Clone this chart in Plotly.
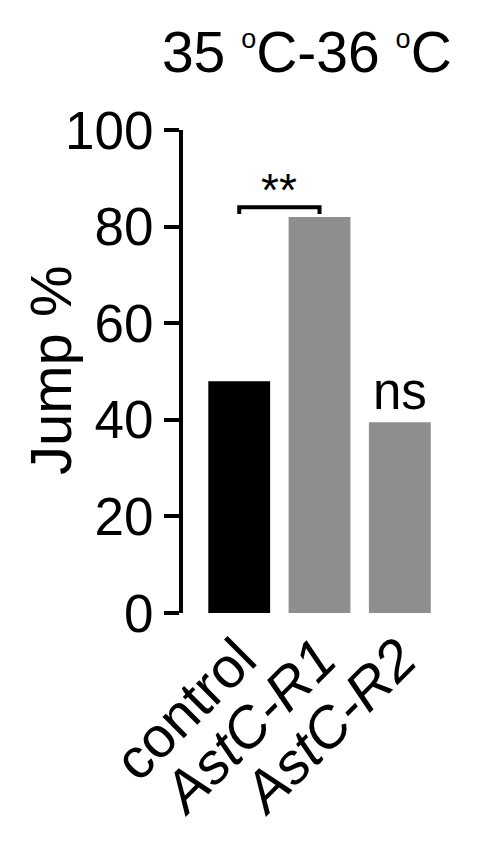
import plotly.graph_objects as go

groups = ["control", "AstC-R1", "AstC-R2"]
group_labels = ["control", "<i>AstC-R1</i>", "<i>AstC-R2</i>"]
jump_pct = [48, 82, 39.5]
bar_colors = ["#000000", "#8e8e8e", "#8e8e8e"]

bracket_x = ["control", "control", "AstC-R1", "AstC-R1"]
bracket_y = [82.6, 84, 84, 82.6]

y_ticks = [0, 20, 40, 60, 80, 100]

FONT = "Liberation Sans, Arial, Helvetica, sans-serif"
deg = '<sup><span style="font-size:27px">o</span></sup>'

fig = go.Figure()

fig.add_trace(go.Bar(
    x=groups,
    y=jump_pct,
    marker=dict(color=bar_colors, line=dict(width=0)),
    width=0.77,
    showlegend=False,
))

# significance bracket control vs AstC-R1
fig.add_trace(go.Scatter(
    x=bracket_x,
    y=bracket_y,
    mode="lines",
    line=dict(color="black", width=4),
    showlegend=False,
    hoverinfo="skip",
))

fig.add_annotation(x=0.5, y=84, xref="x", yref="y", text="**",
                   showarrow=False, yanchor="bottom", yshift=-11,
                   font=dict(size=46, color="black", family=FONT))
fig.add_annotation(x=2, y=39.5, xref="x", yref="y", text="ns",
                   showarrow=False, yanchor="bottom", yshift=0,
                   font=dict(size=51, color="black", family=FONT))

# y title as an annotation so its spot can be set
fig.add_annotation(x=-0.5175, y=0.503, xref="paper", yref="paper",
                   text="Jump %", textangle=-90, showarrow=False,
                   xanchor="center", yanchor="middle",
                   font=dict(size=58, color="black", family=FONT))

fig.update_layout(
    width=485,
    height=844,
    margin=dict(l=175, r=53, t=122, b=239),
    paper_bgcolor="white",
    plot_bgcolor="white",
    font=dict(family=FONT, color="black", size=52),
    title=dict(text="35 " + deg + "C-36 " + deg + "C",
               x=0.482, xref="paper", xanchor="center",
               y=1 - 44 / 844, yref="container", yanchor="middle",
               font=dict(size=57, family=FONT, color="black")),
)

fig.update_xaxes(
    type="category",
    range=[-0.7, 2.5],
    tickmode="array",
    tickvals=groups,
    ticktext=group_labels,
    tickangle=-45,
    ticks="",
    showline=False,
    showgrid=False,
    zeroline=False,
    tickfont=dict(size=57, family=FONT, color="black"),
)

fig.update_yaxes(
    range=[0, 100],
    tickvals=y_ticks,
    ticks="outside",
    ticklen=15,
    tickwidth=4,
    tickcolor="black",
    showline=True,
    linewidth=4,
    linecolor="black",
    showgrid=False,
    zeroline=False,
    tickfont=dict(size=53, family=FONT, color="black"),
)

fig.write_html("out.html")
